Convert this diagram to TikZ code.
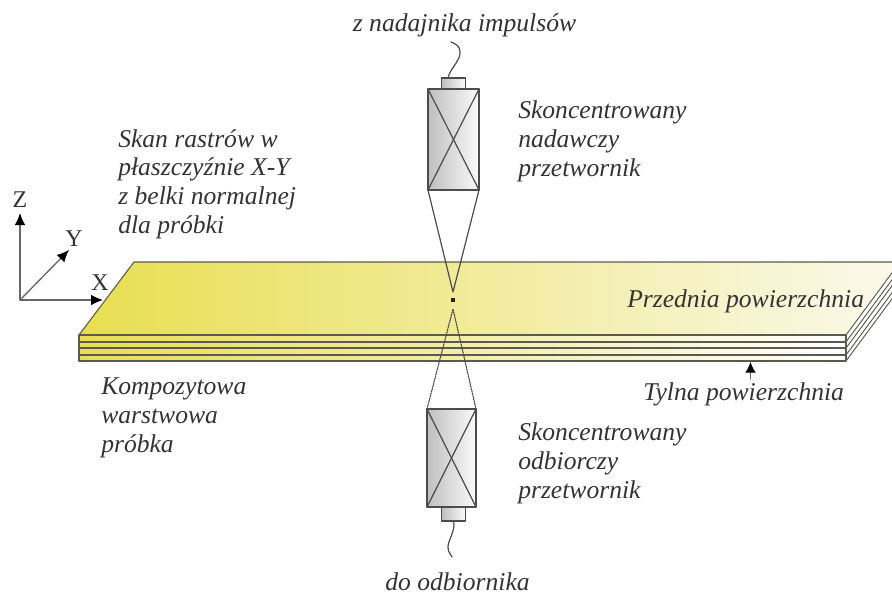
\documentclass[tikz,border=0pt]{standalone}
\usepackage{fontspec}
\setmainfont{Liberation Serif}
\usetikzlibrary{arrows.meta}
\definecolor{plateYellow}{HTML}{E8DE50}
\definecolor{plateMid}{HTML}{F1EBA0}
\definecolor{plateCream}{HTML}{FBF9EC}
\definecolor{edgeGray}{HTML}{5A5A50}
\tikzset{
  labeltext/.style={font=\itshape\fontsize{19.2}{21.5}\selectfont, align=left, anchor=base west, inner sep=0pt, text=black!80},
  axislabel/.style={font=\fontsize{18}{20}\selectfont, inner sep=0pt, text=black!80},
  axisline/.style={draw=black!60, line width=1pt, -{Latex[length=9pt,width=8pt,color=black]}},
  probebody/.style={draw=black!70, line width=0.8pt, inner sep=0pt, outer sep=0pt, left color=black!25, right color=black!2},
  beamline/.style={draw=black!70, line width=0.9pt},
}
\begin{document}
\begin{tikzpicture}
% one unit is one pixel of the reference
\def\pxsz{0.75pt}
\begin{scope}[x=\pxsz, y=-\pxsz, line cap=round, line join=round]
  \useasboundingbox (0,0) rectangle (892,597);
  % Plate, clipped at the right margin
  \begin{scope}
    \clip (0,0) rectangle (892,597);
    \shade[left color=plateYellow, middle color=plateMid, right color=plateCream] (79,335) -- (134,262) -- (900,262) -- (846,335) -- cycle;
    \shade[left color=plateYellow, middle color=plateMid, right color=white] (79,335) rectangle (846,361);
    \fill[white] (846,335) -- (900,262) -- (900,288) -- (846,361) -- cycle;
    \draw[edgeGray, line width=0.8pt] (79,335) -- (134,262) -- (900,262);
    % Layer lines
    \foreach \yy in {335,342,348,355,361}{
      \draw[edgeGray, line width=0.9pt] (79,\yy) -- (846,\yy);
      \draw[edgeGray, line width=0.7pt] (846,\yy) -- ++(54,-73);
    }
    \draw[edgeGray, line width=0.8pt] (79,335) -- (79,361);
    \draw[edgeGray, line width=0.8pt] (846,335) -- (846,361);
  \end{scope}
  % Axes
  \coordinate (origin) at (20,300);
  \node[axislabel] (axisZ) at (20,200) {Z};
  \node[axislabel] (axisY) at (74,239) {Y};
  \node[axislabel] (axisX) at (100,283) {X};
  \coordinate (tipZ) at (20,213);
  \coordinate (tipY) at (69,250);
  \coordinate (tipX) at (103,300);
  \draw[axisline] (origin) -- (tipZ);
  \draw[axisline] (origin) -- (tipY);
  \draw[axisline] (origin) -- (tipX);
  % Focus point
  \node[fill=black!75!brown, minimum size=3pt, inner sep=0pt] (focus) at (453,300) {};
  \coordinate (apexTop) at (453,292);
  \coordinate (apexBottom) at (453,309);
  % Transmitting probe
  \node[probebody, minimum width=38.25pt, minimum height=75.75pt] (sender) at (453.5,139.5) {};
  \node[probebody, minimum width=18pt, minimum height=8.25pt, anchor=south] (senderCap) at (sender.north) {};
  \draw[beamline] (sender.north west) -- (sender.south east);
  \draw[beamline] (sender.north east) -- (sender.south west);
  \draw[beamline] (sender.south west) -- (apexTop) -- (sender.south east);
  \coordinate (senderEnd) at (451,42);
  \draw[beamline] ([xshift=-4pt]senderCap.north) .. controls (449,70) and (461,60) .. (460,52) .. controls (460,46) and (456,44) .. (senderEnd);
  % Receiving probe
  \node[probebody, minimum width=36.75pt, minimum height=73.5pt] (receiver) at (451.5,458) {};
  \node[probebody, minimum width=18pt, minimum height=10.5pt, anchor=north] (receiverCap) at ([xshift=1.5pt]receiver.south) {};
  \draw[beamline] (receiver.north west) -- (receiver.south east);
  \draw[beamline] (receiver.north east) -- (receiver.south west);
  \draw[beamline, densely dotted] (receiver.north west) -- (apexBottom) -- (receiver.north east);
  \coordinate (receiverEnd) at (452,557);
  \draw[beamline] (receiverCap.south) .. controls (456,530) and (448,540) .. (448,547) .. controls (448,551) and (450,554) .. (receiverEnd);
  % Back surface pointer
  \coordinate (backTip) at (750.5,362);
  \coordinate (backStart) at (750.5,379);
  \draw[draw=black!60, line width=0.8pt, -{Latex[length=8pt,width=8pt,color=black]}] (backStart) -- (backTip);
  % Labels
  \node[labeltext, anchor=base] (topLabel) at (464.5,31) {z nadajnika impulsów};
  \node[labeltext] (senderLabel) at (518,176) {Skoncentrowany\\nadawczy\\przetwornik};
  \node[labeltext] (scanLabel) at (118,233) {Skan rastrów w\\płaszczyźnie X-Y\\z belki normalnej\\dla próbki};
  \node[labeltext] (frontLabel) at (627,307) {Przednia powierzchnia};
  \node[labeltext] (backLabel) at (643,400) {Tylna powierzchnia};
  \node[labeltext] (sampleLabel) at (101,452) {Kompozytowa\\warstwowa\\próbka};
  \node[labeltext] (receiverLabel) at (518,498) {Skoncentrowany\\odbiorczy\\przetwornik};
  \node[labeltext, anchor=base] (bottomLabel) at (457.5,590) {do odbiornika};
\end{scope}
\end{tikzpicture}
\end{document}
